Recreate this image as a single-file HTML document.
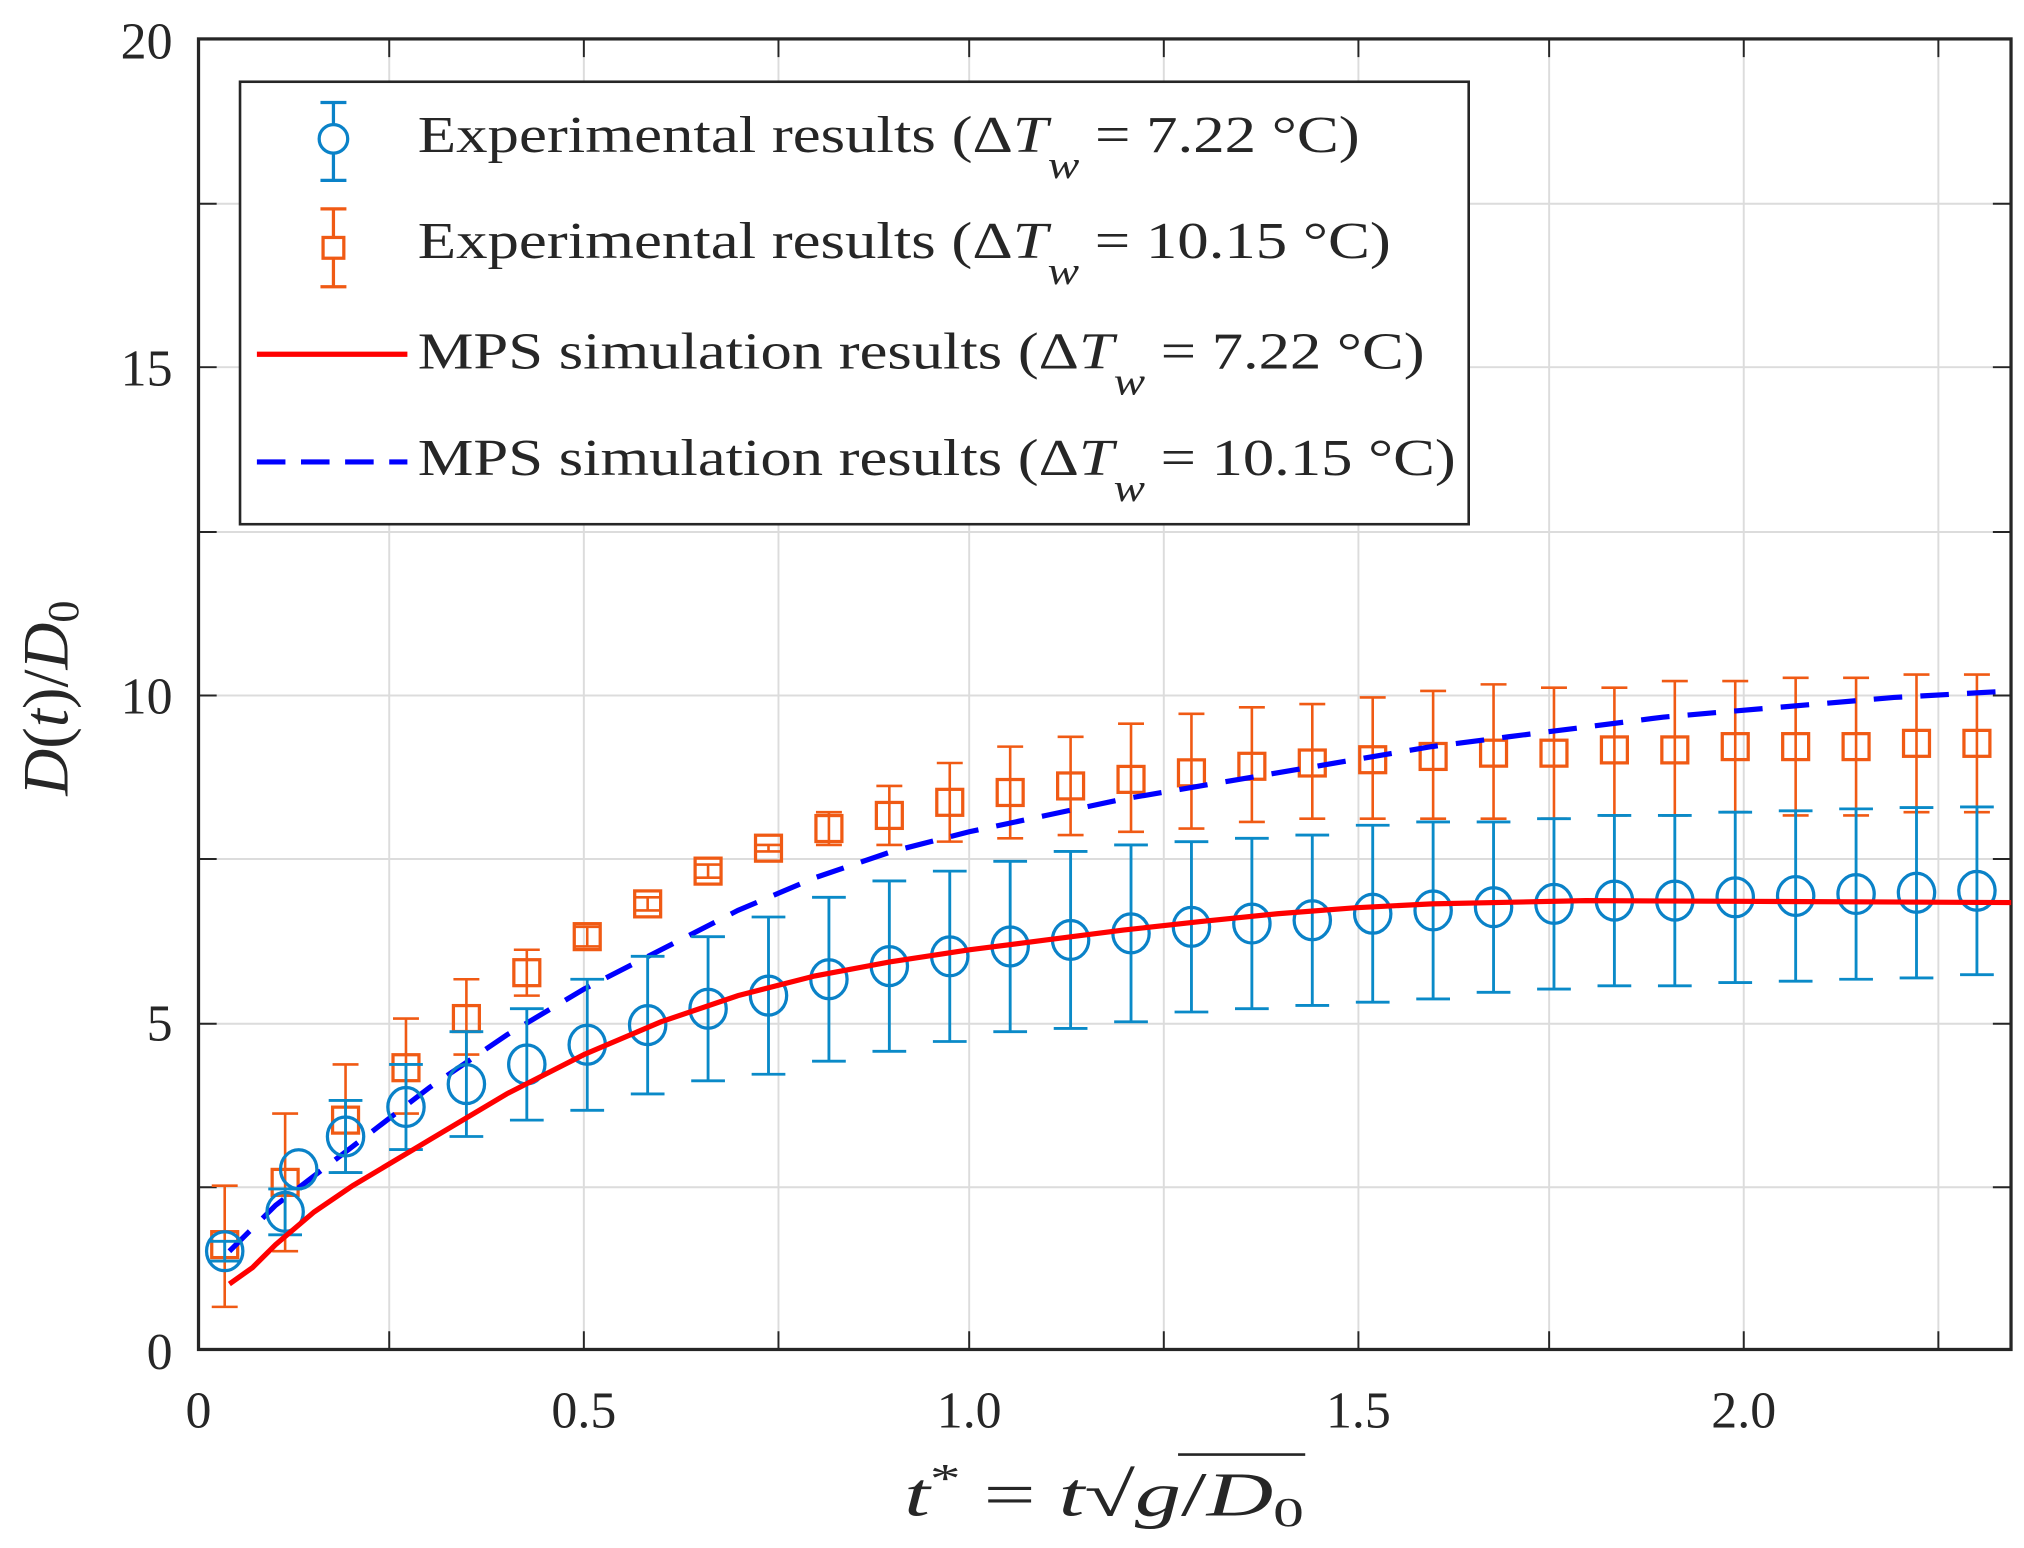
<!DOCTYPE html>
<html><head><meta charset="utf-8"><style>
html,body{margin:0;padding:0;background:#fff;}
svg{display:block;}
text{font-family:"Liberation Serif",serif;fill:#262626;}
</style></head><body>
<svg width="2024" height="1548" viewBox="0 0 1560 1193" preserveAspectRatio="none" xmlns="http://www.w3.org/2000/svg">
<rect width="1560" height="1193" fill="#fff"/>
<g stroke="#dcdcdc" stroke-width="1.5">
<line x1="300" y1="30" x2="300" y2="1040"/><line x1="450" y1="30" x2="450" y2="1040"/><line x1="600" y1="30" x2="600" y2="1040"/><line x1="747" y1="30" x2="747" y2="1040"/><line x1="897" y1="30" x2="897" y2="1040"/><line x1="1047" y1="30" x2="1047" y2="1040"/><line x1="1194" y1="30" x2="1194" y2="1040"/><line x1="1344" y1="30" x2="1344" y2="1040"/><line x1="1494" y1="30" x2="1494" y2="1040"/>
<line x1="153" y1="915" x2="1550" y2="915"/><line x1="153" y1="789" x2="1550" y2="789"/><line x1="153" y1="662" x2="1550" y2="662"/><line x1="153" y1="536" x2="1550" y2="536"/><line x1="153" y1="410" x2="1550" y2="410"/><line x1="153" y1="283" x2="1550" y2="283"/><line x1="153" y1="157" x2="1550" y2="157"/>
</g>
<g stroke="#262626" stroke-width="1.5">
<path d="M300 1040v-14M450 1040v-14M600 1040v-14M747 1040v-14M897 1040v-14M1047 1040v-14M1194 1040v-14M1344 1040v-14M1494 1040v-14"/>
<path d="M300 30v14M450 30v14M600 30v14M747 30v14M897 30v14M1047 30v14M1194 30v14M1344 30v14M1494 30v14"/>
<path d="M153 915h14M153 789h14M153 662h14M153 536h14M153 410h14M153 283h14M153 157h14"/>
<path d="M1550 915h-14M1550 789h-14M1550 662h-14M1550 536h-14M1550 410h-14M1550 283h-14M1550 157h-14"/>
</g>
<rect x="153" y="30" width="1397" height="1010" fill="none" stroke="#262626" stroke-width="2.5"/>
<g id="series"></g>
<g font-size="40" text-anchor="end">
<text x="133" y="1055">0</text><text x="133" y="802">5</text><text x="133" y="550">10</text><text x="133" y="297">15</text><text x="133" y="45">20</text>
</g>
<g font-size="40" text-anchor="middle">
<text x="153" y="1100">0</text><text x="450" y="1100">0.5</text><text x="747" y="1100">1.0</text><text x="1047" y="1100">1.5</text><text x="1344" y="1100">2.0</text>
</g>
<text x="697" y="1168" font-size="48" font-style="italic" textLength="308" lengthAdjust="spacingAndGlyphs">t<tspan font-style="normal" font-size="32" dy="-18">*</tspan><tspan dy="18" font-style="normal"> = </tspan>t<tspan font-style="normal">√</tspan>g<tspan font-style="normal">/</tspan>D<tspan font-style="normal" font-size="32" dy="8">0</tspan></text>
<line x1="908" y1="1121" x2="1006" y2="1121" stroke="#262626" stroke-width="2"/>
<text transform="translate(52,538) rotate(-90)" font-size="50" text-anchor="middle" font-style="italic">D<tspan font-style="normal">(</tspan>t<tspan font-style="normal">)/</tspan>D<tspan font-style="normal" font-size="34" dy="8">0</tspan></text>
<rect x="185" y="63" width="947" height="341" fill="#fff" stroke="#262626" stroke-width="2"/>
<g stroke-width="2.5" fill="none">
<path d="M257 79v60M247 79h20M247 139h20" stroke="#0a82c8"/><circle cx="257" cy="107" r="11" stroke="#0a82c8" fill="#fff"/>
<path d="M257 161v60M247 161h20M247 221h20" stroke="#f05a14"/><rect x="249" y="183" width="16" height="16" stroke="#f05a14" fill="#fff"/>
<line x1="198" y1="273" x2="314" y2="273" stroke="#ff0000" stroke-width="4"/>
<line x1="198" y1="356" x2="314" y2="356" stroke="#0000ff" stroke-width="4" stroke-dasharray="22,12"/>
</g>
<g font-size="40">
<text x="322" y="117" textLength="726" lengthAdjust="spacingAndGlyphs">Experimental results (Δ<tspan font-style="italic">T</tspan><tspan font-size="30" font-style="italic" dy="20">w</tspan><tspan dy="-20"> = 7.22 °C)</tspan></text>
<text x="322" y="199" textLength="750" lengthAdjust="spacingAndGlyphs">Experimental results (Δ<tspan font-style="italic">T</tspan><tspan font-size="30" font-style="italic" dy="20">w</tspan><tspan dy="-20"> = 10.15 °C)</tspan></text>
<text x="322" y="284" textLength="776" lengthAdjust="spacingAndGlyphs">MPS simulation results (Δ<tspan font-style="italic">T</tspan><tspan font-size="30" font-style="italic" dy="20">w</tspan><tspan dy="-20"> = 7.22 °C)</tspan></text>
<text x="322" y="366" textLength="800" lengthAdjust="spacingAndGlyphs">MPS simulation results (Δ<tspan font-style="italic">T</tspan><tspan font-size="30" font-style="italic" dy="20">w</tspan><tspan dy="-20"> = 10.15 °C)</tspan></text>
</g>
</svg>
<script>
(function(){
var g=document.getElementById('series'),ns='http://www.w3.org/2000/svg';
function X(v){return 153+594*v;}function Y(v){return 1040-50.5*v;}
function el(t,a){var e=document.createElementNS(ns,t);for(var k in a)e.setAttribute(k,a[k]);g.appendChild(e);return e;}
var bx=[],i;for(i=0;i<30;i++)bx.push(0.034+0.0784*i);
var bl=[1.5,2.1,3.25,3.7,4.05,4.35,4.65,4.95,5.2,5.4,5.65,5.85,6.0,6.15,6.25,6.35,6.45,6.5,6.55,6.65,6.7,6.75,6.8,6.85,6.85,6.9,6.92,6.95,6.97,7.0];
var be=[0.15,0.35,0.55,0.65,0.8,0.85,1.0,1.05,1.1,1.2,1.25,1.3,1.3,1.3,1.35,1.35,1.3,1.3,1.3,1.35,1.35,1.3,1.3,1.3,1.3,1.3,1.3,1.3,1.3,1.28];
var or=[1.6,2.55,3.5,4.3,5.05,5.75,6.3,6.8,7.3,7.65,7.95,8.15,8.35,8.5,8.6,8.7,8.8,8.9,8.95,9.0,9.05,9.1,9.1,9.15,9.15,9.2,9.2,9.2,9.25,9.25];
var oeU=[0.9,1.05,0.85,0.75,0.6,0.35,0.15,0.1,0.1,0.05,0.25,0.45,0.6,0.7,0.75,0.85,0.9,0.9,0.9,0.95,1.0,1.05,1.0,0.95,1.05,1.0,1.05,1.05,1.05,1.05];
var oeD=[0.95,1.05,0.8,0.7,0.55,0.35,0.15,0.1,0.1,0.05,0.25,0.45,0.6,0.7,0.75,0.8,0.85,0.85,0.85,0.9,0.95,1.0,1.0,1.0,1.0,1.0,1.05,1.05,1.05,1.05];
for(i=0;i<30;i++){var x=X(bx[i]);
el('path',{d:'M'+x+' '+Y(or[i]+oeU[i])+'V'+Y(or[i]-oeD[i])+'M'+(x-10)+' '+Y(or[i]+oeU[i])+'h20M'+(x-10)+' '+Y(or[i]-oeD[i])+'h20',stroke:'#f05a14','stroke-width':2,fill:'none'});
el('rect',{x:x-10,y:Y(or[i])-10,width:20,height:20,stroke:'#f05a14','stroke-width':2.5,fill:'none'});}
function line(pts,a){var d='';pts.forEach(function(p,j){d+=(j?'L':'M')+X(p[0]).toFixed(1)+' '+Y(p[1]).toFixed(1);});a.d=d;a.fill='none';el('path',a);}
line([[0.04,1.5],[0.1,2.2],[0.2,3.1],[0.3,4.0],[0.4,4.8],[0.5,5.5],[0.6,6.1],[0.7,6.7],[0.8,7.2],[0.9,7.6],[1.0,7.9],[1.1,8.15],[1.2,8.4],[1.3,8.6],[1.4,8.8],[1.5,9.0],[1.6,9.2],[1.7,9.35],[1.8,9.5],[1.9,9.65],[2.0,9.75],[2.1,9.85],[2.2,9.95],[2.352,10.05]],{stroke:'#0000ff','stroke-width':4,'stroke-dasharray':'22,14'});
for(i=0;i<30;i++){var x=X(bx[i]),y=bl[i];
el('path',{d:'M'+x+' '+Y(y+be[i])+'V'+Y(y-be[i])+'M'+(x-13)+' '+Y(y+be[i])+'h26M'+(x-13)+' '+Y(y-be[i])+'h26',stroke:'#0a8ac8','stroke-width':2.2,fill:'none'});
el('ellipse',{cx:x,cy:Y(y),rx:14,ry:15,stroke:'#0a82c8','stroke-width':2.5,fill:'none'});}
el('ellipse',{cx:X(0.13),cy:Y(2.75),rx:14,ry:15,stroke:'#0a82c8','stroke-width':2.5,fill:'none'});
line([[0.04,1.0],[0.07,1.25],[0.1,1.6],[0.15,2.1],[0.2,2.5],[0.3,3.2],[0.4,3.9],[0.5,4.5],[0.6,5.0],[0.7,5.4],[0.8,5.7],[0.9,5.92],[1.0,6.1],[1.1,6.25],[1.2,6.4],[1.3,6.53],[1.4,6.65],[1.5,6.74],[1.6,6.8],[1.8,6.85],[2.0,6.84],[2.352,6.82]],{stroke:'#ff0000','stroke-width':4});
})();
</script>
</body></html>
